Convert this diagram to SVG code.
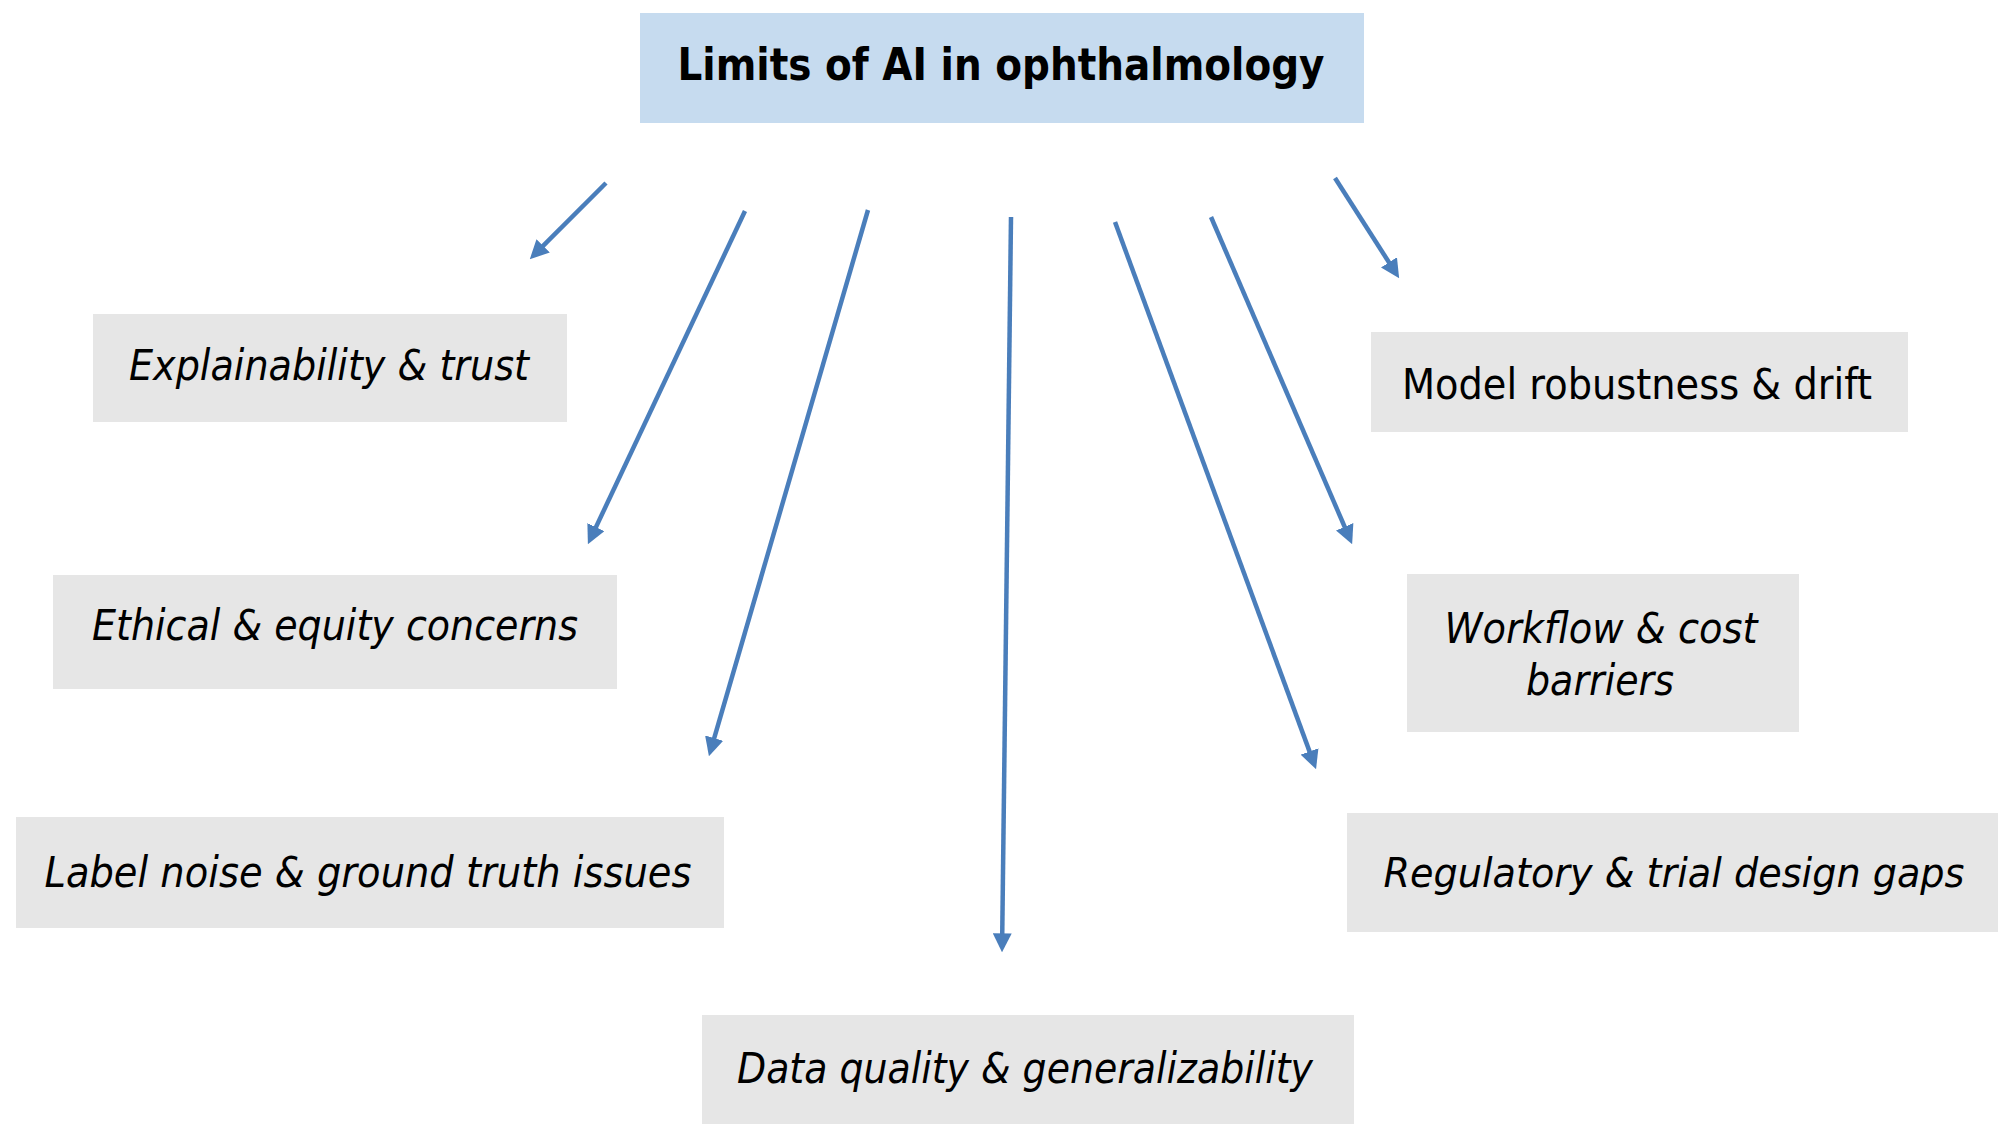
<svg xmlns="http://www.w3.org/2000/svg" width="2002" height="1131" viewBox="0 0 2002 1131">
<style>
.bg{fill:#ffffff}
.title-box{fill:#C6DBEF}
.box{fill:#E6E6E6}
.t{font-family:"DejaVu Sans","Verdana",sans-serif;font-size:42px;fill:#000000;text-anchor:middle}
.it{font-style:italic}
.sm{font-size:40px}
.title{font-family:"DejaVu Sans","Verdana",sans-serif;font-size:44px;font-weight:bold;fill:#000000;text-anchor:middle}
.conn line{stroke:#4A7EBB;stroke-width:4.5;fill:none;marker-end:url(#ah)}
</style>
<defs>
<marker id="ah" viewBox="0 0 10 10" refX="7" refY="5" markerWidth="4.2" markerHeight="4.2" markerUnits="strokeWidth" orient="auto">
<path d="M0,0 L10,5 L0,10 z" fill="#4A7EBB"/>
</marker>
</defs>
<rect class="bg" x="0" y="0" width="2002" height="1131"/>
<g id="title">
<rect class="title-box" x="640" y="13" width="724" height="110"/>
<text class="title" x="1001" y="80" textLength="647" lengthAdjust="spacingAndGlyphs">Limits of AI in ophthalmology</text>
</g>
<g id="explainability">
<rect class="box" x="93" y="314" width="474" height="108"/>
<text class="t it" x="329" y="380" textLength="400" lengthAdjust="spacingAndGlyphs">Explainability &amp; trust</text>
</g>
<g id="ethical">
<rect class="box" x="53" y="575" width="564" height="114"/>
<text class="t it" x="335" y="640" textLength="486" lengthAdjust="spacingAndGlyphs">Ethical &amp; equity concerns</text>
</g>
<g id="label-noise">
<rect class="box" x="16" y="817" width="708" height="111"/>
<text class="t it" x="368" y="887" textLength="647" lengthAdjust="spacingAndGlyphs">Label noise &amp; ground truth issues</text>
</g>
<g id="data-quality">
<rect class="box" x="702" y="1015" width="652" height="109"/>
<text class="t it" x="1025" y="1083" textLength="576" lengthAdjust="spacingAndGlyphs">Data quality &amp; generalizability</text>
</g>
<g id="regulatory">
<rect class="box" x="1347" y="813" width="651" height="119"/>
<text class="t it sm" x="1674" y="887" textLength="581" lengthAdjust="spacingAndGlyphs">Regulatory &amp; trial design gaps</text>
</g>
<g id="workflow">
<rect class="box" x="1407" y="574" width="392" height="158"/>
<text class="t it" x="1601" y="643" textLength="313" lengthAdjust="spacingAndGlyphs">Workflow &amp; cost</text>
<text class="t it" x="1600" y="695" textLength="148" lengthAdjust="spacingAndGlyphs">barriers</text>
</g>
<g id="model-robustness">
<rect class="box" x="1371" y="332" width="537" height="100"/>
<text class="t" x="1637" y="399" textLength="470" lengthAdjust="spacingAndGlyphs">Model robustness &amp; drift</text>
</g>
<g id="connectors" class="conn">
<line x1="606" y1="183" x2="533.8" y2="255.2"/>
<line x1="745" y1="211" x2="590.3" y2="539.1"/>
<line x1="868" y1="210" x2="710.5" y2="750.8"/>
<line x1="1011" y1="217" x2="1002.1" y2="946.6"/>
<line x1="1115" y1="222" x2="1314.1" y2="763.9"/>
<line x1="1211" y1="217" x2="1349.9" y2="539"/>
<line x1="1335" y1="178" x2="1396.1" y2="273.5"/>
</g>
</svg>
